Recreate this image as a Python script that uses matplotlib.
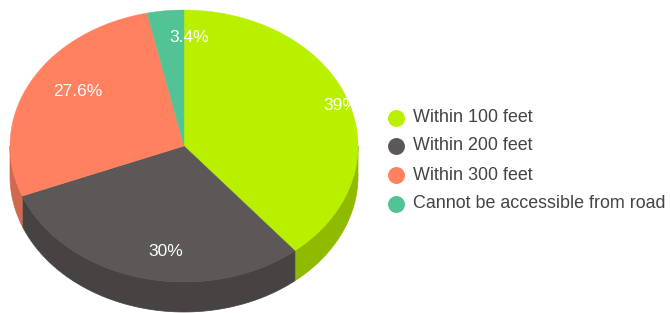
import numpy as np
import matplotlib
matplotlib.use("Agg")
import matplotlib.pyplot as plt
from matplotlib.patches import Polygon
from matplotlib.lines import Line2D

categories = ["Within 100 feet", "Within 200 feet", "Within 300 feet", "Cannot be accessible from road"]
values = [39, 30, 27.6, 3.4]
value_labels = ["39%", "30%", "27.6%", "3.4%"]
top_colors = ["#b8f000", "#5c5857", "#ff8160", "#52c394"]
side_colors = ["#8fba00", "#474342", "#d06a4f", "#3f9c76"]

W, H = 670, 313
fig = plt.figure(figsize=(W / 100, H / 100), dpi=100)
ax = fig.add_axes([0, 0, 1, 1])
ax.set_xlim(0, W)
ax.set_ylim(H, 0)
ax.axis("off")

cx, cy, rx, ry, depth = 184, 146, 174, 136, 30

def pt(theta_deg, dy=0.0):
    t = np.radians(theta_deg)
    return cx + rx * np.cos(t), cy - ry * np.sin(t) + dy

total = sum(values)
starts = []
a = 90.0
for v in values:
    sweep = v / total * 360.0
    starts.append((a - sweep, a))  # clockwise from top
    a -= sweep

# side walls (front half)
for (a0, a1), sc in zip(starts, side_colors):
    for k in range(-1, 2):
        lo = max(a0, -180 + 360 * k)
        hi = min(a1, 0 + 360 * k)
        if hi <= lo:
            continue
        th = np.linspace(lo, hi, 100)
        top = [pt(t) for t in th]
        bot = [pt(t, depth) for t in th[::-1]]
        ax.add_patch(Polygon(top + bot, closed=True, facecolor=sc, edgecolor=sc, lw=0.5))

# top faces
for (a0, a1), tc in zip(starts, top_colors):
    th = np.linspace(a0, a1, 200)
    poly = [(cx, cy)] + [pt(t) for t in th]
    ax.add_patch(Polygon(poly, closed=True, facecolor=tc, edgecolor=tc, lw=0.3))

# labels
label_pos = [(341, 106), (166, 251), (78, 91), (189, 37)]
for (x, y), s in zip(label_pos, value_labels):
    ax.text(x, y, s, color="white", fontsize=12.5, ha="center", va="center",
            family="Liberation Sans")

# legend
leg_y = [118, 146, 175, 204]
for y, c, name in zip(leg_y, top_colors, categories):
    ax.add_line(Line2D([395.5], [y], marker="o", markersize=12.2, color=c, markeredgewidth=0))
    ax.text(413, y, name, color="#444444", fontsize=12.9, ha="left", va="center",
            family="Liberation Sans")

fig.savefig("out.png", dpi=100)
